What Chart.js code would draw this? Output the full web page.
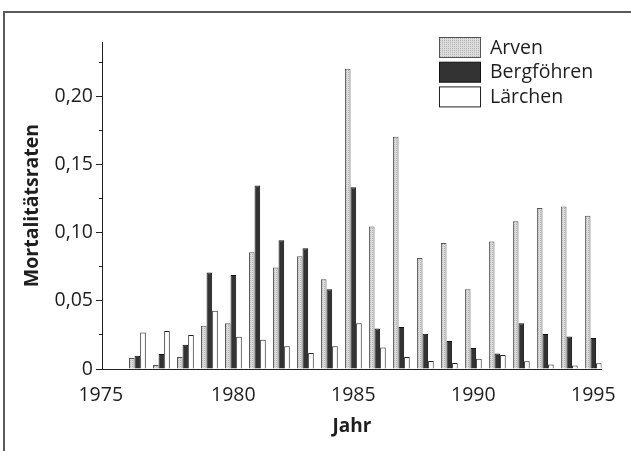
<!DOCTYPE html>
<html><head><meta charset="utf-8">
<script src="https://cdn.jsdelivr.net/npm/chart.js@4"></script>
<style>
html,body{margin:0;padding:0;background:#fff;}
#wrap{position:relative;width:631px;height:451px;overflow:hidden;background:#fff;}
#frame{position:absolute;left:3px;top:11px;width:700px;height:500px;border-top:2px solid #5a5a5a;border-left:2px solid #5a5a5a;pointer-events:none;}
canvas{position:absolute;left:0;top:0;}
</style></head><body>
<div id="wrap"><canvas id="c" width="631" height="451"></canvas><div id="frame"></div></div>
<script>
const years = [1976,1977,1978,1979,1980,1981,1982,1983,1984,1985,1986,1987,1988,1989,1990,1991,1992,1993,1994,1995];
const arven = [0.008,0.003,0.0088,0.0318,0.0336,0.0856,0.0745,0.0828,0.0658,0.2203,0.1045,0.1705,0.0815,0.0925,0.0585,0.0936,0.1085,0.1182,0.1192,0.1125];
const bergfoehren = [0.0097,0.011,0.0178,0.0708,0.069,0.1347,0.0945,0.0886,0.0586,0.1334,0.0297,0.0309,0.0258,0.0205,0.0155,0.0114,0.0336,0.0257,0.0238,0.0227];
const laerchen = [0.0268,0.0278,0.0249,0.0428,0.0236,0.0215,0.0167,0.0117,0.0167,0.0336,0.0158,0.0088,0.0058,0.0044,0.0075,0.0103,0.0057,0.0033,0.0026,0.0043];
const seriesNames = ['Arven','Bergföhren','Lärchen'];
const xTicks = [1975,1980,1985,1990,1995];
const xTickLabels = ['1975','1980','1985','1990','1995'];
const yTickValues = [0,0.025,0.05,0.075,0.1,0.125,0.15,0.175,0.2,0.225];
const yTickLabels = ['0','','0,05','','0,10','','0,15','','0,20',''];

const FONT = '"Open Sans", "Noto Sans", sans-serif';
const TXT = '#1e1e1e';

// stippled light gray fill
const pc = document.createElement('canvas'); pc.width = 2; pc.height = 2;
const pctx = pc.getContext('2d');
pctx.fillStyle = '#dcdcdc'; pctx.fillRect(0,0,2,2);
pctx.fillStyle = '#b4b4b4'; pctx.fillRect(0,0,1,1);
const ctx = document.getElementById('c').getContext('2d');
const arvenFill = ctx.createPattern(pc, 'repeat');

const insideLegend = {
  id: 'insideLegend',
  afterDraw(chart) {
    const c = chart.ctx;
    c.save();
    chart.data.datasets.forEach((ds, i) => {
      const x = 439.5, y = 37.5 + i * 24.7, w = 41, h = 20;
      c.fillStyle = ds.backgroundColor; c.fillRect(x, y, w, h);
      c.strokeStyle = ds.borderColor; c.lineWidth = 1; c.strokeRect(x, y, w, h);
      c.fillStyle = TXT; c.font = '19.5px ' + FONT; c.textBaseline = 'middle'; c.textAlign = 'left';
      c.fillText(ds.label, 490, y + h / 2 + 0.5);
    });
    c.restore();
  }
};

new Chart(ctx, {
  type: 'bar',
  data: {
    datasets: [
      {label: seriesNames[0], data: years.map((y,i)=>({x:y, y:arven[i]})), backgroundColor: arvenFill, borderColor: '#555', borderWidth: 1},
      {label: seriesNames[1], data: years.map((y,i)=>({x:y, y:bergfoehren[i]})), backgroundColor: '#333333', borderColor: '#111', borderWidth: 1},
      {label: seriesNames[2], data: years.map((y,i)=>({x:y, y:laerchen[i]})), backgroundColor: '#ffffff', borderColor: '#222', borderWidth: 1}
    ]
  },
  options: {
    responsive: false, animation: false, devicePixelRatio: 1,
    layout: {padding: {top: 42, right: 25, left: 0, bottom: 0}},
    plugins: {legend: {display: false}, tooltip: {enabled: false}},
    datasets: {bar: {categoryPercentage: 0.70, barPercentage: 1.0, borderSkipped: 'start'}},
    scales: {
      x: {
        type: 'linear', min: 1974.525, max: 1995.351, offset: false,
        grid: {display: false, drawTicks: false},
        border: {display: true, color: '#222', width: 1},
        ticks: {font: {family: FONT, size: 19.5}, color: TXT, padding: 15, includeBounds: false, autoSkip: false, maxRotation: 0,
                // the first label sits a little left of its tick in the original
                callback: (v, i) => i === 0 ? xTickLabels[i] + '     ' : xTickLabels[i]},
        afterBuildTicks: s => { s.ticks = xTicks.map(v => ({value: v})); },
        afterFit: s => { s.height = 82; },
        title: {display: true, text: 'Jahr', font: {family: FONT, size: 19, weight: 'bold'}, color: TXT, padding: {top: 0, bottom: 13}}
      },
      y: {
        min: 0, max: 0.24,
        grid: {drawOnChartArea: false, drawTicks: true, tickLength: 6, tickColor: '#222', tickWidth: 1,
               tickBorderDash: c => (c.index % 2 === 1 ? [3, 3] : []),
               tickBorderDashOffset: c => (c.index % 2 === 1 ? 3 : 0)},
        border: {display: true, color: '#222', width: 1},
        ticks: {font: {family: FONT, size: 19.5}, color: TXT, padding: 3, autoSkip: false, callback: (v, i) => yTickLabels[i]},
        afterBuildTicks: s => { s.ticks = yTickValues.map(v => ({value: v})); },
        afterFit: s => { s.width = 102; },
        title: {display: true, text: 'Mortalitätsraten', font: {family: FONT, size: 19.5, weight: 'bold'}, color: TXT, padding: {top: 21, bottom: 0}}
      }
    }
  },
  plugins: [insideLegend]
});
</script>
</body></html>
